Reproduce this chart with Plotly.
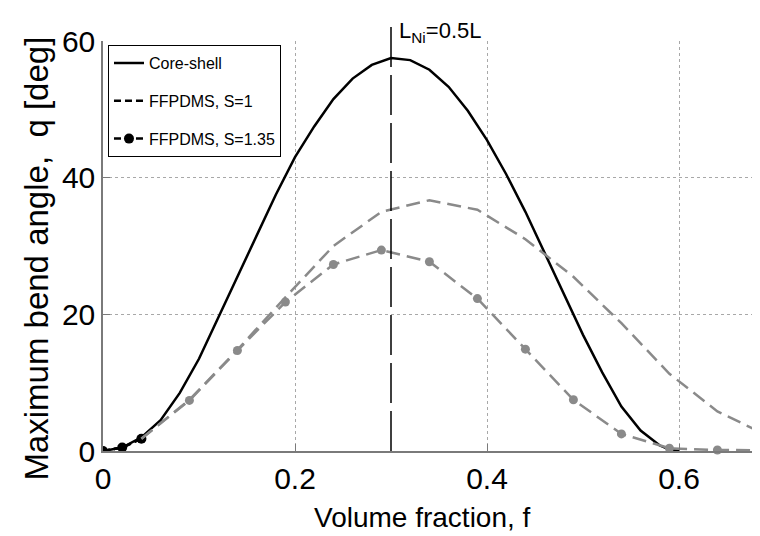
import plotly.graph_objects as go

# ---------------- data ----------------
core_f = [0.00, 0.02, 0.04, 0.06, 0.08, 0.10, 0.12, 0.14, 0.16, 0.18, 0.20,
          0.22, 0.24, 0.26, 0.28, 0.30, 0.32, 0.34, 0.36, 0.38, 0.40, 0.42,
          0.44, 0.46, 0.48, 0.50, 0.52, 0.54, 0.56, 0.58, 0.59, 0.60]
core_q = [0.0, 0.5, 2.0, 4.5, 8.5, 13.5, 19.5, 25.5, 31.5, 37.5, 43.0,
          47.5, 51.5, 54.5, 56.5, 57.5, 57.2, 55.8, 53.3, 49.8, 45.5, 40.5,
          35.0, 29.0, 23.0, 17.0, 11.5, 6.5, 3.0, 0.8, 0.2, 0.0]

ff_f = [0.00, 0.02, 0.04, 0.09, 0.14, 0.19, 0.24, 0.29, 0.34, 0.39, 0.44,
        0.49, 0.54, 0.59, 0.64, 0.69]
s1_q = [0.0, 0.5, 1.8, 7.5, 14.8, 22.5, 30.0, 35.0, 36.7, 35.3, 31.0,
        25.5, 18.7, 11.3, 5.8, 2.4]
s135_q = [0.0, 0.5, 1.8, 7.4, 14.7, 21.8, 27.3, 29.4, 27.7, 22.3, 14.9,
          7.5, 2.5, 0.4, 0.15, 0.1]

x_ticks = [0, 0.2, 0.4, 0.6]
x_tick_labels = ["0", "0.2", "0.4", "0.6"]
y_ticks = [0, 20, 40, 60]
y_tick_labels = ["0", "20", "40", "60"]

lni_f = 0.3
lni_label = "L<sub>Ni</sub>=0.5L"
names = ["Core-shell", "FFPDMS, S=1", "FFPDMS, S=1.35"]
x_title = "Volume fraction, f"
y_title = "Maximum bend angle,  q [deg]"

n_black = 3  # first points drawn in black

GREY = "#8a8a8a"
FONT = "Liberation Sans, Arial, sans-serif"

fig = go.Figure()

# black legend-carrying traces
fig.add_trace(go.Scatter(x=core_f, y=core_q, mode="lines", name=names[0],
                         line=dict(color="black", width=2.5),
                         legendgroup="a"))
fig.add_trace(go.Scatter(x=ff_f[:n_black], y=s1_q[:n_black], mode="lines",
                         name=names[1],
                         line=dict(color="black", width=2.5, dash="7px,4px"),
                         legendgroup="b"))
fig.add_trace(go.Scatter(x=ff_f[:n_black], y=s135_q[:n_black],
                         mode="lines+markers", name=names[2],
                         line=dict(color="black", width=2.5, dash="7px,4px"),
                         marker=dict(color="black", size=10),
                         legendgroup="c"))

# grey curves
fig.add_trace(go.Scatter(x=ff_f[n_black - 1:], y=s1_q[n_black - 1:], mode="lines",
                         line=dict(color=GREY, width=2.5, dash="14px,7px"),
                         showlegend=False))
fig.add_trace(go.Scatter(x=ff_f[n_black - 1:], y=s135_q[n_black - 1:], mode="lines",
                         line=dict(color=GREY, width=2.5, dash="14px,7px"),
                         showlegend=False))
fig.add_trace(go.Scatter(x=ff_f[n_black:], y=s135_q[n_black:], mode="markers",
                         marker=dict(color=GREY, size=9),
                         showlegend=False, cliponaxis=False))

# vertical L_Ni line
fig.add_shape(type="line", xref="x", yref="paper", x0=lni_f, x1=lni_f,
              y0=0, y1=1.044, line=dict(color="black", width=1.5,
                                        dash="40px,8px"))
fig.add_annotation(x=lni_f, xref="x", y=1.022, yref="paper", text=lni_label,
                   showarrow=False, xanchor="left", yanchor="middle",
                   xshift=6, font=dict(size=22, color="black", family=FONT))

# axis titles as annotations
fig.add_annotation(x=0.48, xref="paper", y=-0.163, yref="paper", text=x_title,
                   showarrow=False, xanchor="center", yanchor="middle",
                   font=dict(size=28, color="black", family=FONT))
fig.add_annotation(x=-0.1, xref="paper", y=0.468, yref="paper", text=y_title,
                   showarrow=False, xanchor="center", yanchor="middle",
                   textangle=-90,
                   font=dict(size=33, color="black", family=FONT))

axis_common = dict(showgrid=True, gridcolor="#a8a8a8", griddash="dot",
                   gridwidth=1, showline=True, linecolor="#7a7a7a",
                   linewidth=1.5, ticks="inside", ticklen=7, tickwidth=1,
                   tickcolor="#7a7a7a", zeroline=False,
                   tickfont=dict(size=30, color="black", family=FONT))

fig.update_xaxes(range=[0, 0.6927], tickvals=x_ticks, ticktext=x_tick_labels,
                 **axis_common)
fig.update_yaxes(range=[0, 60], tickvals=y_ticks, ticktext=y_tick_labels,
                 **axis_common)

fig.update_layout(
    width=760, height=536,
    margin=dict(l=95, r=0, t=33, b=93),
    plot_bgcolor="white", paper_bgcolor="white",
    font=dict(family=FONT, color="black"),
    showlegend=True,
    legend=dict(x=0.0075, y=0.99, xanchor="left", yanchor="top",
                bordercolor="black", borderwidth=1, bgcolor="white",
                font=dict(size=16, family=FONT, color="black"),
                tracegroupgap=14),
)

fig.write_html("out.html")
